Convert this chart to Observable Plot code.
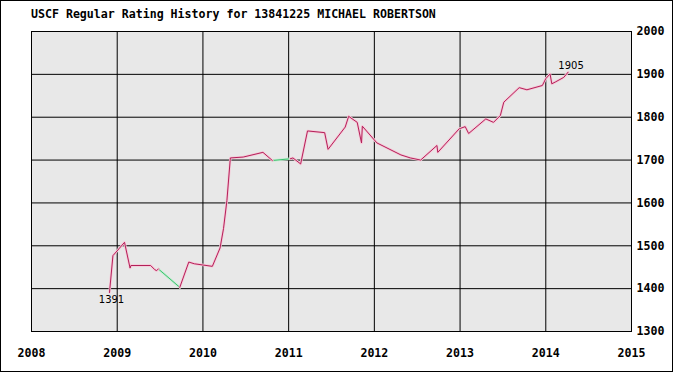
<!DOCTYPE html>
<html>
<head>
<meta charset="utf-8">
<script src="https://cdn.jsdelivr.net/npm/d3@7"></script>
<script src="https://cdn.jsdelivr.net/npm/@observablehq/plot@0.6"></script>
<style>
  html, body { margin: 0; padding: 0; background: #fff; }
  #wrap { position: relative; width: 673px; height: 372px; overflow: hidden; background: #fff; }
  #border { position: absolute; left: 0; top: 0; width: 673px; height: 372px; box-sizing: border-box; border: 1px solid #000; pointer-events: none; }
  #title { position: absolute; left: 31px; top: 7px; font-family: "DejaVu Sans Mono", monospace; font-size: 11.6px; font-weight: bold; color: #000; white-space: nowrap; }
  #chart { position: absolute; left: 0; top: 0; }
</style>
</head>
<body>
<div id="wrap">
  <div id="chart"></div>
  <div id="title">USCF Regular Rating History for 13841225 MICHAEL ROBERTSON</div>
  <div id="border"></div>
</div>
<script>
// Rating history (decimal year, rating); null marks a gap without data (drawn green)
const ratingDates = [
  2008.91, 2008.95, 2009.02, 2009.085, 2009.15, 2009.16, 2009.39, 2009.44, 2009.46, 2009.48,
  null,
  2009.73, 2009.835, 2009.90, 2010.11, 2010.20, 2010.24, 2010.28, 2010.32, 2010.47, 2010.70, 2010.81,
  null,
  2011.02, 2011.05, 2011.14, 2011.22, 2011.42, 2011.46, 2011.66, 2011.70, 2011.80, 2011.85, 2011.86,
  2012.03, 2012.31, 2012.42, 2012.54, 2012.73, 2012.74, 2012.99, 2013.06, 2013.10, 2013.30, 2013.39,
  2013.47, 2013.51, 2013.69, 2013.78, 2013.96, 2014.00, 2014.05, 2014.07, 2014.11, 2014.21, 2014.26
];
const ratings = [
  1391, 1477, 1493, 1508, 1448, 1454, 1454, 1444, 1442, 1446,
  null,
  1403, 1462, 1458, 1452, 1495, 1540, 1606, 1705, 1707, 1718, 1699,
  null,
  1703, 1705, 1691, 1768, 1764, 1725, 1777, 1802, 1788, 1740, 1779,
  1740, 1712, 1705, 1700, 1734, 1718, 1773, 1778, 1762, 1796, 1788,
  1804, 1835, 1869, 1864, 1874, 1890, 1901, 1878, 1882, 1893, 1905
];
const xTicks = [2008, 2009, 2010, 2011, 2012, 2013, 2014, 2015];
const yTicks = [1300, 1400, 1500, 1600, 1700, 1800, 1900, 2000];

const data = ratingDates.map((x, i) => ({x, y: ratings[i]}));
// green connectors across gaps
const gaps = [];
data.forEach((d, i) => {
  if (d.y == null) {
    gaps.push({x: data[i - 1].x, y: data[i - 1].y, g: i});
    gaps.push({x: data[i + 1].x, y: data[i + 1].y, g: i});
  }
});
const valid = data.filter(d => d.y != null);
const first = valid[0], last = valid[valid.length - 1];

const chart = Plot.plot({
  width: 673,
  height: 372,
  marginLeft: 31,
  marginRight: 42,
  marginTop: 31,
  marginBottom: 41,
  x: {domain: [2008, 2015]},
  y: {domain: [1300, 2000]},
  style: {background: "transparent", fontFamily: "DejaVu Sans Mono, monospace", fontSize: "11.6px", fontWeight: "bold", color: "#000", overflow: "visible"},
  marks: [
    Plot.frame({fill: "#e8e8e8"}),
    Plot.gridX(xTicks, {stroke: "#000", strokeOpacity: 1}),
    Plot.gridY(yTicks, {stroke: "#000", strokeOpacity: 1}),
    Plot.axisX(xTicks, {anchor: "bottom", tickSize: 0, tickPadding: 17, tickFormat: d => String(d), label: null}),
    Plot.axisY(yTicks, {anchor: "right", tickSize: 0, tickPadding: 5, label: null, tickFormat: d => String(d)}),
    Plot.line(gaps, {x: "x", y: "y", z: "g", stroke: "#c4eed2", strokeWidth: 2.5}),
    Plot.line(gaps, {x: "x", y: "y", z: "g", stroke: "#3cbf6e", strokeWidth: 1}),
    Plot.line(data, {x: "x", y: "y", stroke: "#f6c6d6", strokeWidth: 2.5}),
    Plot.line(data, {x: "x", y: "y", stroke: "#b32059", strokeWidth: 1}),
    Plot.frame({stroke: "#000"}),
    Plot.text([first], {x: "x", y: "y", text: d => String(d.y), dy: 3, dx: 2, lineAnchor: "top", fontFamily: "DejaVu Sans, sans-serif", fontSize: 10, fontWeight: "normal", fill: "#000"}),
    Plot.text([last], {x: "x", y: "y", text: d => String(d.y), dy: -3, dx: 3, lineAnchor: "bottom", fontFamily: "DejaVu Sans, sans-serif", fontSize: 10, fontWeight: "normal", fill: "#000"})
  ]
});
document.getElementById("chart").appendChild(chart);
</script>
</body>
</html>
